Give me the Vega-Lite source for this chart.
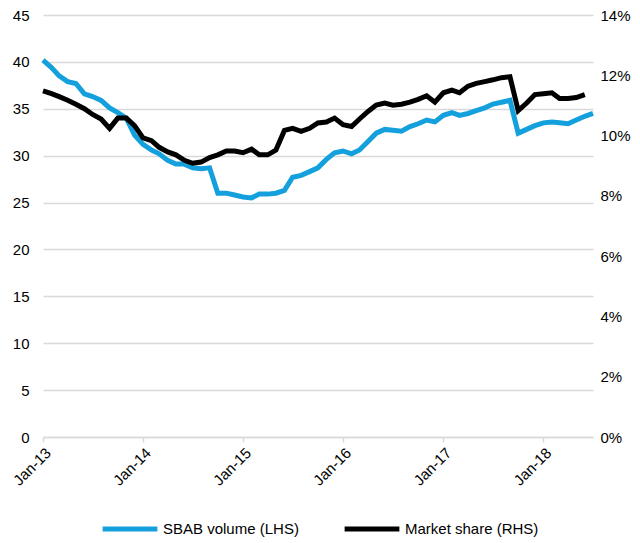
{
  "$schema": "https://vega.github.io/schema/vega-lite/v6.json",
  "width": 550,
  "height": 422,
  "autosize": {"type": "none"},
  "padding": {"left": 43, "top": 15, "right": 47, "bottom": 106},
  "config": {
    "font": "Liberation Sans",
    "view": {"stroke": null},
    "axis": {"labelFont": "Liberation Sans", "labelFontSize": 15, "labelColor": "#000000"},
    "legend": {"labelFont": "Liberation Sans", "labelFontSize": 15, "labelColor": "#000000"}
  },
  "data": {
    "values": [
      {"date": "2013-01-01T00:00:00", "volume": 40.2, "share": 0.1148},
      {"date": "2013-02-01T00:00:00", "volume": 39.4, "share": 0.1139},
      {"date": "2013-03-01T00:00:00", "volume": 38.5, "share": 0.1129},
      {"date": "2013-04-01T00:00:00", "volume": 37.9, "share": 0.1117},
      {"date": "2013-05-01T00:00:00", "volume": 37.7, "share": 0.1104},
      {"date": "2013-06-01T00:00:00", "volume": 36.6, "share": 0.1089},
      {"date": "2013-07-01T00:00:00", "volume": 36.3, "share": 0.1070},
      {"date": "2013-08-01T00:00:00", "volume": 35.9, "share": 0.1055},
      {"date": "2013-09-01T00:00:00", "volume": 35.1, "share": 0.1024},
      {"date": "2013-10-01T00:00:00", "volume": 34.6, "share": 0.1058},
      {"date": "2013-11-01T00:00:00", "volume": 34.0, "share": 0.1058},
      {"date": "2013-12-01T00:00:00", "volume": 32.2, "share": 0.1033},
      {"date": "2014-01-01T00:00:00", "volume": 31.2, "share": 0.0992},
      {"date": "2014-02-01T00:00:00", "volume": 30.6, "share": 0.0983},
      {"date": "2014-03-01T00:00:00", "volume": 30.2, "share": 0.0961},
      {"date": "2014-04-01T00:00:00", "volume": 29.5, "share": 0.0946},
      {"date": "2014-05-01T00:00:00", "volume": 29.1, "share": 0.0936},
      {"date": "2014-06-01T00:00:00", "volume": 29.1, "share": 0.0918},
      {"date": "2014-07-01T00:00:00", "volume": 28.7, "share": 0.0908},
      {"date": "2014-08-01T00:00:00", "volume": 28.6, "share": 0.0912},
      {"date": "2014-09-01T00:00:00", "volume": 28.7, "share": 0.0927},
      {"date": "2014-10-01T00:00:00", "volume": 26.0, "share": 0.0936},
      {"date": "2014-11-01T00:00:00", "volume": 26.0, "share": 0.0949},
      {"date": "2014-12-01T00:00:00", "volume": 25.8, "share": 0.0949},
      {"date": "2015-01-01T00:00:00", "volume": 25.6, "share": 0.0943},
      {"date": "2015-02-01T00:00:00", "volume": 25.5, "share": 0.0955},
      {"date": "2015-03-01T00:00:00", "volume": 25.9, "share": 0.0936},
      {"date": "2015-04-01T00:00:00", "volume": 25.9, "share": 0.0936},
      {"date": "2015-05-01T00:00:00", "volume": 26.0, "share": 0.0952},
      {"date": "2015-06-01T00:00:00", "volume": 26.3, "share": 0.1017},
      {"date": "2015-07-01T00:00:00", "volume": 27.7, "share": 0.1024},
      {"date": "2015-08-01T00:00:00", "volume": 27.9, "share": 0.1014},
      {"date": "2015-09-01T00:00:00", "volume": 28.3, "share": 0.1024},
      {"date": "2015-10-01T00:00:00", "volume": 28.7, "share": 0.1042},
      {"date": "2015-11-01T00:00:00", "volume": 29.6, "share": 0.1045},
      {"date": "2015-12-01T00:00:00", "volume": 30.3, "share": 0.1058},
      {"date": "2016-01-01T00:00:00", "volume": 30.5, "share": 0.1036},
      {"date": "2016-02-01T00:00:00", "volume": 30.2, "share": 0.1030},
      {"date": "2016-03-01T00:00:00", "volume": 30.6, "share": 0.1055},
      {"date": "2016-04-01T00:00:00", "volume": 31.5, "share": 0.1080},
      {"date": "2016-05-01T00:00:00", "volume": 32.4, "share": 0.1101},
      {"date": "2016-06-01T00:00:00", "volume": 32.8, "share": 0.1108},
      {"date": "2016-07-01T00:00:00", "volume": 32.7, "share": 0.1101},
      {"date": "2016-08-01T00:00:00", "volume": 32.6, "share": 0.1104},
      {"date": "2016-09-01T00:00:00", "volume": 33.1, "share": 0.1111},
      {"date": "2016-10-01T00:00:00", "volume": 33.4, "share": 0.1120},
      {"date": "2016-11-01T00:00:00", "volume": 33.8, "share": 0.1132},
      {"date": "2016-12-01T00:00:00", "volume": 33.6, "share": 0.1111},
      {"date": "2017-01-01T00:00:00", "volume": 34.3, "share": 0.1142},
      {"date": "2017-02-01T00:00:00", "volume": 34.6, "share": 0.1151},
      {"date": "2017-03-01T00:00:00", "volume": 34.3, "share": 0.1142},
      {"date": "2017-04-01T00:00:00", "volume": 34.5, "share": 0.1164},
      {"date": "2017-05-01T00:00:00", "volume": 34.8, "share": 0.1173},
      {"date": "2017-06-01T00:00:00", "volume": 35.1, "share": 0.1179},
      {"date": "2017-07-01T00:00:00", "volume": 35.5, "share": 0.1185},
      {"date": "2017-08-01T00:00:00", "volume": 35.7, "share": 0.1192},
      {"date": "2017-09-01T00:00:00", "volume": 35.9, "share": 0.1195},
      {"date": "2017-10-01T00:00:00", "volume": 32.4, "share": 0.1083},
      {"date": "2017-11-01T00:00:00", "volume": 32.8, "share": 0.1108},
      {"date": "2017-12-01T00:00:00", "volume": 33.2, "share": 0.1136},
      {"date": "2018-01-01T00:00:00", "volume": 33.5, "share": 0.1139},
      {"date": "2018-02-01T00:00:00", "volume": 33.6, "share": 0.1142},
      {"date": "2018-03-01T00:00:00", "volume": 33.5, "share": 0.1123},
      {"date": "2018-04-01T00:00:00", "volume": 33.4, "share": 0.1123},
      {"date": "2018-05-01T00:00:00", "volume": 33.8, "share": 0.1126},
      {"date": "2018-06-01T00:00:00", "volume": 34.2, "share": 0.1136},
      {"date": "2018-07-01T00:00:00", "volume": 34.5, "share": null}
    ]
  },
  "encoding": {
    "x": {
      "field": "date",
      "type": "temporal",
      "scale": {"domain": [{"year": 2013, "month": 1, "date": 1}, {"year": 2018, "month": 7, "date": 1}]},
      "axis": {
        "title": null,
        "format": "%b-%y",
        "tickCount": {"interval": "year", "step": 1},
        "grid": false,
        "domainColor": "#d9d9d9",
        "domainWidth": 1.5,
        "tickColor": "#d9d9d9",
        "tickWidth": 1.5,
        "tickSize": 5,
        "labelAngle": -45,
        "labelAlign": "right",
        "labelBaseline": "top",
        "labelPadding": 3
      }
    }
  },
  "layer": [
    {
      "mark": {"type": "line", "strokeWidth": 5},
      "encoding": {
        "y": {
          "field": "volume",
          "type": "quantitative",
          "scale": {"domain": [0, 45]},
          "axis": {
            "title": null,
            "orient": "left",
            "values": [0, 5, 10, 15, 20, 25, 30, 35, 40, 45],
            "domain": false,
            "ticks": false,
            "grid": true,
            "gridColor": "#d9d9d9",
            "gridWidth": 1.5,
            "labelPadding": 14
          }
        },
        "color": {
          "datum": "SBAB volume (LHS)",
          "type": "nominal",
          "scale": {"domain": ["SBAB volume (LHS)", "Market share (RHS)"], "range": ["#14a0dc", "#000000"]},
          "legend": {
            "title": null,
            "orient": "none",
            "legendX": 57,
            "legendY": 484,
            "direction": "horizontal",
            "symbolType": "stroke",
            "symbolSize": 3000,
            "symbolStrokeWidth": 5,
            "labelOffset": 3,
            "columnPadding": 35
          }
        }
      }
    },
    {
      "mark": {"type": "line", "strokeWidth": 5},
      "encoding": {
        "y": {
          "field": "share",
          "type": "quantitative",
          "scale": {"domain": [0, 0.14]},
          "axis": {
            "title": null,
            "orient": "right",
            "values": [0, 0.02, 0.04, 0.06, 0.08, 0.1, 0.12, 0.14],
            "format": ".0%",
            "domain": false,
            "ticks": false,
            "grid": false,
            "labelPadding": 7
          }
        },
        "color": {"datum": "Market share (RHS)", "type": "nominal"}
      }
    }
  ],
  "resolve": {"scale": {"y": "independent"}}
}
